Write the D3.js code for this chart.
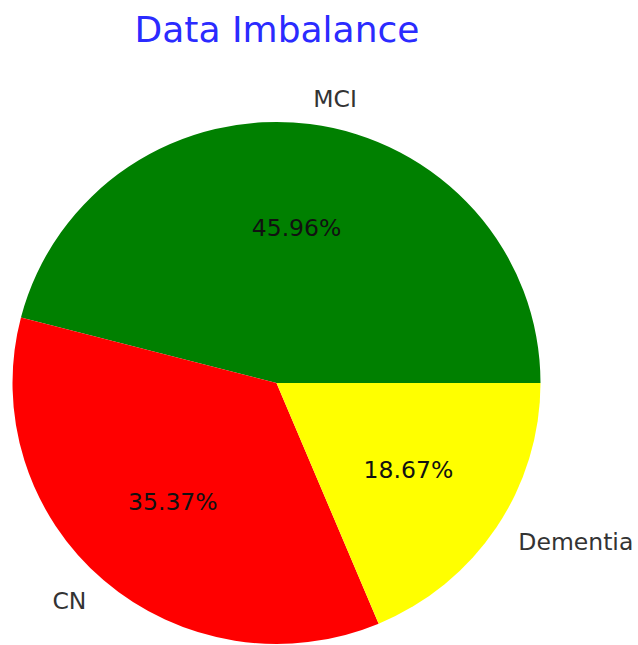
<!DOCTYPE html>
<html>
<head>
<meta charset="utf-8">
<script src="https://cdn.jsdelivr.net/npm/d3@7"></script>
<style>
  body { margin: 0; background: #fff; }
  text { font-family: "DejaVu Sans", sans-serif; }
</style>
</head>
<body>
<div id="chart"></div>
<script>
// pie data
var labels = ["MCI", "CN", "Dementia"];
var values = [45.96, 35.37, 18.67];
var colors = ["#008000", "#ff0000", "#ffff00"];

var width = 638, height = 645;
var cx = 276.5, cy = 383,
    rx = 264, ry = 261; // picture is a touch wider than tall

var svg = d3.select("#chart").append("svg")
    .attr("width", width)
    .attr("height", height);

// matplotlib style: start at 3 o'clock, go counterclockwise
var pie = d3.pie()
    .sort(null)
    .startAngle(Math.PI / 2)
    .endAngle(Math.PI / 2 - 2 * Math.PI);

var slices = pie(values.map(function(v, i) { return { v: v, i: i }; }).map(function(d) { return d.v; }));

var arc = d3.arc().innerRadius(0).outerRadius(1);

var g = svg.append("g")
    .attr("transform", "translate(" + cx + "," + cy + ") scale(" + rx + "," + ry + ")");

g.selectAll("path")
    .data(slices).enter().append("path")
    .attr("d", arc)
    .style("fill", function(d, i) { return colors[i]; });

function pos(d, k) {
  var a = (d.startAngle + d.endAngle) / 2;
  return [cx + k * rx * Math.sin(a), cy - k * ry * Math.cos(a)];
}

// outer labels
svg.selectAll(".lbl")
    .data(slices).enter().append("text")
    .attr("class", "lbl")
    .attr("x", function(d) { return pos(d, 1.1)[0]; })
    .attr("y", function(d) { return pos(d, 1.1)[1]; })
    .attr("dy", "0.36em")
    .style("text-anchor", function(d) { return pos(d, 1.1)[0] > cx ? "start" : "end"; })
    .style("font-size", "23.5px")
    .style("fill", "#333")
    .text(function(d, i) { return labels[i]; });

// percent labels
svg.selectAll(".pct")
    .data(slices).enter().append("text")
    .attr("class", "pct")
    .attr("x", function(d) { return pos(d, 0.6)[0]; })
    .attr("y", function(d) { return pos(d, 0.6)[1]; })
    .attr("dy", "0.36em")
    .style("text-anchor", "middle")
    .style("font-size", "23.5px")
    .style("fill", "#111")
    .text(function(d) { return d.data.toFixed(2) + "%"; });

// title
svg.append("text")
    .attr("x", 277)
    .attr("y", 42)
    .style("text-anchor", "middle")
    .style("font-size", "36px")
    .style("fill", "#2b2bff")
    .text("Data Imbalance");
</script>
</body>
</html>
